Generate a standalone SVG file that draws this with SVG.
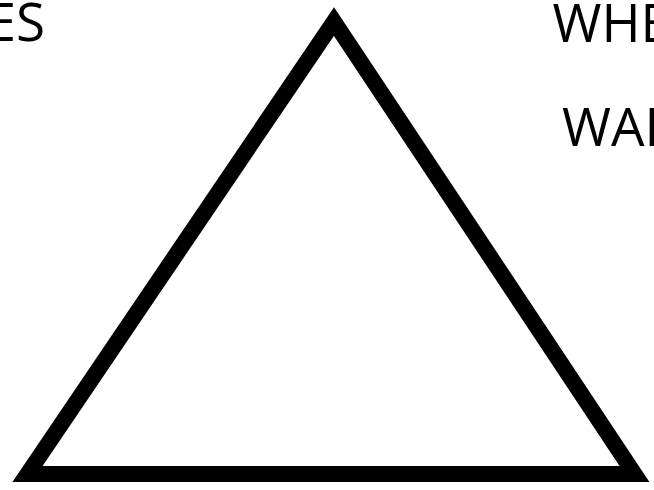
<svg xmlns="http://www.w3.org/2000/svg" width="654" height="490" viewBox="0 0 654 490">
<style>
.lbl{font-family:"Open Sans","Noto Sans","DejaVu Sans",sans-serif;font-size:53px;fill:#000}
</style>
<rect width="654" height="490" fill="#fff"/>
<g id="triangle">
<polygon points="334,21.5 27.5,474 634.5,474" fill="#fff" stroke="#000" stroke-width="16" stroke-linejoin="miter" stroke-miterlimit="10"/>
</g>
<g id="labels">
<text class="lbl" x="45" y="41" text-anchor="end">ES</text>
<text class="lbl" x="552.5" y="42">WHE</text>
<text class="lbl" x="562" y="146">WAL</text>
</g>
</svg>
